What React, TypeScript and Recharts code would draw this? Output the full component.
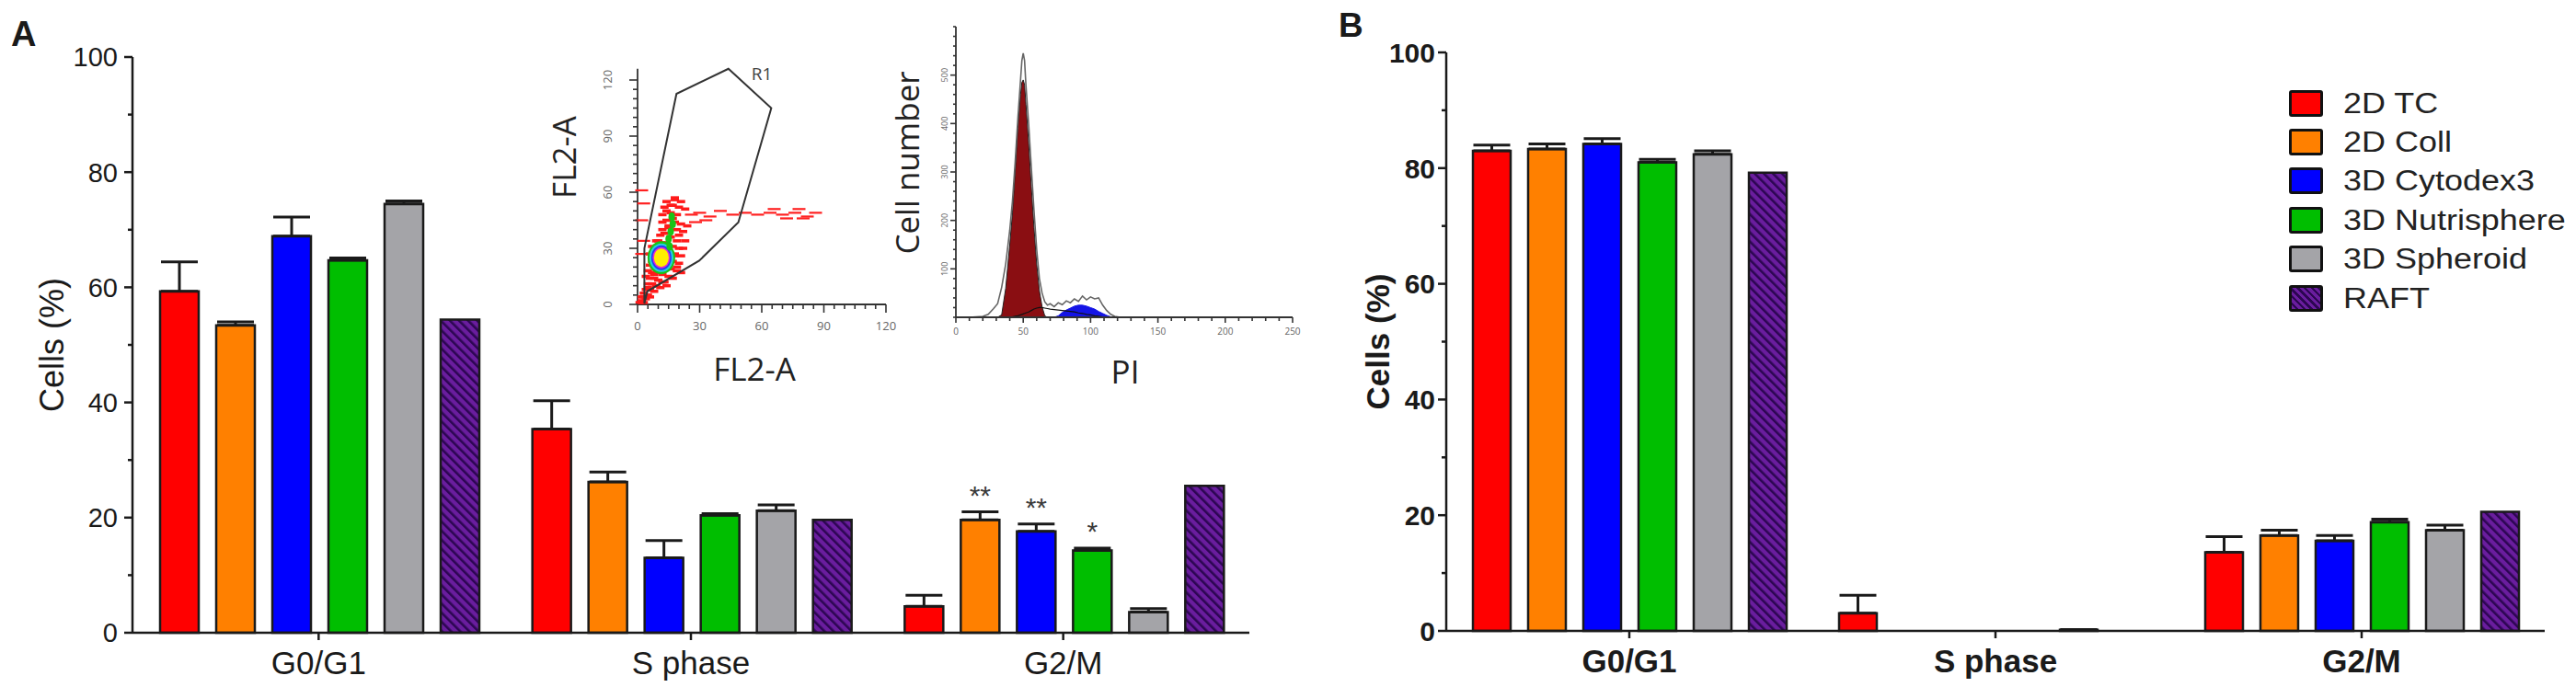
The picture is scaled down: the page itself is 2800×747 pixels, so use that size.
import React from 'react';
import {
  BarChart, Bar, XAxis, YAxis, ErrorBar, LabelList, Legend,
  ScatterChart, Scatter, ComposedChart, Area, Line,
} from 'recharts';

const FONT = '"Liberation Sans", Arial, Helvetica, sans-serif';
const FLOW_FONT = '"Open Sans", "Noto Sans", sans-serif';
const INK = '#1a1a1a';

// ---------- categories & series ----------
const categories = ['G0/G1', 'S phase', 'G2/M'];
const seriesNames = ['2D TC', '2D Coll', '3D Cytodex3', '3D Nutrisphere', '3D Spheroid', 'RAFT'];
const seriesKeys = ['tc', 'coll', 'cyto', 'nutri', 'sph', 'raft'];
const seriesFills = ['#FF0000', '#FF8000', '#0000FF', '#00BE00', '#A4A4A8', 'url(#raftHatch)'];
const legendSwatches = [
  '#FF0000', '#FF8000', '#0000FF', '#00BE00', '#A4A4A8',
  'repeating-linear-gradient(45deg, #6A1D9E 0px, #6A1D9E 3px, #2C0652 3px, #2C0652 5.5px)',
];

// ---------- panel A values ----------
const aTC = [59.3, 35.4, 4.6];
const aTCErr = [5.1, 4.9, 1.9];
const aColl = [53.4, 26.2, 19.6];
const aCollErr = [0.6, 1.7, 1.4];
const aCyto = [68.9, 13.0, 17.6];
const aCytoErr = [3.3, 3.0, 1.3];
const aNutri = [64.7, 20.4, 14.3];
const aNutriErr = [0.4, 0.3, 0.4];
const aSph = [74.5, 21.2, 3.6];
const aSphErr = [0.5, 1.0, 0.6];
const aRaft = [54.4, 19.6, 25.5];
const aRaftErr = [0, 0, 0];
const aSigNone = ['', '', ''];
const aSigColl = ['', '', '**'];
const aSigCyto = ['', '', '**'];
const aSigNutri = ['', '', '*'];

// ---------- panel B values ----------
const bTC = [83.0, 3.05, 13.6];
const bTCErr = [1.0, 3.1, 2.7];
const bColl = [83.3, 0, 16.5];
const bCollErr = [0.9, 0, 0.9];
const bCyto = [84.2, 0, 15.6];
const bCytoErr = [0.9, 0, 0.9];
const bNutri = [81.0, 0, 18.8];
const bNutriErr = [0.5, 0, 0.5];
const bSph = [82.4, 0.2, 17.4];
const bSphErr = [0.6, 0, 0.9];
const bRaft = [79.2, 0, 20.6];
const bRaftErr = [0, 0, 0];

// ---------- axis ticks ----------
const pctTicks = [0, 10, 20, 30, 40, 50, 60, 70, 80, 90, 100];
const pctMajor = [0, 20, 40, 60, 80, 100];

// ---------- inset 1 (FL2-A dot plot) ----------
const flTicks = [0, 5, 10, 15, 20, 25, 30, 35, 40, 45, 50, 55, 60, 65, 70, 75, 80, 85, 90, 95, 100, 105, 110, 115, 120];
const flMajor = [0, 30, 60, 90, 120];
const gateX = [3.3, 3.3, 18.8, 43.9, 64.6, 48.7, 29.8, 4.7, 3.3];
const gateY = [0.5, 30, 112.6, 126, 105, 43.9, 23.4, 7, 0.5];
const redX = [1, 2, 3, 2, 4, 3, 5, 6, 4, 6, 8, 5, 7, 9, 11, 6, 8, 10, 13, 7, 9, 12, 15, 17, 8, 16, 19, 21, 7, 17, 20, 6, 18, 21, 7, 17, 20, 9, 19, 11, 16, 20, 12, 15, 19, 22, 12, 14, 18, 21, 24, 12, 16, 19, 13, 17, 20, 23, 14, 18, 21, 4, 5, 6, 18, 19, 10, 14, 3, 5, 8, 10, 12, 14, 22, 23, 13, 15, 17, 14, 16, 18];
const redY = [1, 2, 1, 4, 3, 6, 5, 4, 8, 8, 7, 11, 11, 10, 9, 14, 14, 13, 12, 17, 17, 16, 15, 14, 20, 19, 18, 17, 23, 23, 22, 27, 27, 26, 31, 31, 30, 34, 34, 37, 36, 37, 40, 41, 40, 39, 44, 45, 44, 43, 42, 48, 49, 48, 52, 53, 52, 51, 55, 56, 55, 15, 18, 21, 26, 20, 34, 33, 4, 9, 16, 18, 12, 10, 30, 34, 38, 42, 46, 50, 53, 57];
const streakX = [26, 30, 35, 40, 46, 52, 58, 64, 70, 76, 82, 86, 72, 80, 66, 78, 33, 28, 2, 3, 2, 3, 2];
const streakY = [48, 49, 47, 50, 48, 49, 48, 49, 48, 49, 47, 49, 46, 46, 51, 51, 45, 44, 27, 34, 45, 54, 61];
const greenX = [15, 16, 17, 15.5, 16.5];
const greenY = [35, 39, 43, 31, 47];
const coreX = [11.5];
const coreY = [25];
const rings = [
  { rx: 15, ry: 18, color: '#18C418' },
  { rx: 13, ry: 15.5, color: '#27D0E0' },
  { rx: 11, ry: 13.5, color: '#2040F0' },
  { rx: 9.5, ry: 11.5, color: '#E028D8' },
  { rx: 8, ry: 10, color: '#FFEE00' },
];
const r1LabelX = [60];
const r1LabelY = [120];

// ---------- inset 2 (PI histogram) ----------
const histYTicks = [0, 20, 40, 60, 80, 100, 120, 140, 160, 180, 200, 220, 240, 260, 280, 300, 320, 340, 360, 380, 400, 420, 440, 460, 480, 500, 520, 540, 560, 580, 600];
const histYMajor = [100, 200, 300, 400, 500];
const histXTicks = [0, 10, 20, 30, 40, 50, 60, 70, 80, 90, 100, 110, 120, 130, 140, 150, 160, 170, 180, 190, 200, 210, 220, 230, 240, 250];
const histXMajor = [0, 50, 100, 150, 200, 250];
const piValues = [0, 10, 20, 24, 28, 31, 34, 37, 40, 42, 44, 46, 48, 49, 50, 51, 52, 54, 56, 58, 60, 62, 64, 66, 68, 70, 73, 76, 79, 82, 85, 88, 91, 94, 97, 100, 103, 106, 109, 112, 115, 118, 122, 130, 150, 200, 250];
const observedCounts = [0, 0, 2, 6, 18, 28, 62, 110, 180, 240, 320, 410, 490, 530, 545, 530, 480, 400, 310, 220, 140, 80, 50, 32, 25, 28, 22, 30, 26, 34, 30, 38, 33, 44, 36, 42, 38, 40, 25, 14, 6, 2, 0, 0, 0, 0, 0];
const g1Counts = [0, 0, 0, 0, 0, 0, 5, 60, 150, 215, 300, 390, 460, 485, 490, 480, 440, 360, 270, 185, 110, 55, 22, 3, 0, 0, 0, 0, 0, 0, 0, 0, 0, 0, 0, 0, 0, 0, 0, 0, 0, 0, 0, 0, 0, 0, 0];
const g2Counts = [0, 0, 0, 0, 0, 0, 0, 0, 0, 0, 0, 0, 0, 0, 0, 0, 0, 0, 0, 0, 0, 0, 0, 0, 0, 0, 0, 3, 10, 15, 19, 23, 25, 25, 23, 20, 17, 12, 8, 4, 1, 0, 0, 0, 0, 0, 0];
const sCounts = [0, 0, 0, 0, 0, 0, 0, 0, 0, 1, 2, 3, 5, 6, 7, 8, 9, 11, 14, 17, 19, 20, 20, 19, 18, 17, 16, 15, 14, 13, 12, 11, 9, 8, 6, 5, 3, 2, 1, 0, 0, 0, 0, 0, 0, 0, 0];

// ---------- builders ----------
function buildTable(means: number[][], errs: number[][], sigs: string[][]) {
  return categories.map((cat, i) => {
    const row: any = { cat };
    seriesKeys.forEach((k, s) => {
      row[k] = means[s][i];
      row[k + 'Err'] = errs[s][i];
      row[k + 'Sig'] = sigs[s][i];
    });
    return row;
  });
}

const aMeans = [aTC, aColl, aCyto, aNutri, aSph, aRaft];
const aErrs = [aTCErr, aCollErr, aCytoErr, aNutriErr, aSphErr, aRaftErr];
const aSigs = [aSigNone, aSigColl, aSigCyto, aSigNutri, aSigNone, aSigNone];
const bMeans = [bTC, bColl, bCyto, bNutri, bSph, bRaft];
const bErrs = [bTCErr, bCollErr, bCytoErr, bNutriErr, bSphErr, bRaftErr];
const bSigs = [aSigNone, aSigNone, aSigNone, aSigNone, aSigNone, aSigNone];

const tableA = buildTable(aMeans, aErrs, aSigs);
const tableB = buildTable(bMeans, bErrs, bSigs);

const pairs = (xs: number[], ys: number[]) => xs.map((x, i) => ({ x, y: ys[i] }));
const histTable = piValues.map((pi, i) => ({
  pi, obs: observedCounts[i], g1: g1Counts[i], g2: g2Counts[i], sph: sCounts[i],
}));

// ---------- renderers ----------
const makePctTick = (tickSize: number, tickMargin: number, fontSize: number, weight: any) => (props: any) => {
  const { x, y, payload } = props;
  const v = payload.value;
  const axisX = x + tickSize + tickMargin;
  const major = pctMajor.includes(v);
  return (
    <g>
      <line x1={axisX - (major ? tickSize : 5)} x2={axisX} y1={y} y2={y} stroke={INK} strokeWidth={2.5} />
      {major && (
        <text x={x} y={y} dy="0.36em" textAnchor="end" fontSize={fontSize} fontWeight={weight} fontFamily={FONT} fill={INK}>
          {v}
        </text>
      )}
    </g>
  );
};

const makeYLabel = (cx: number, fontSize: number, weight: any) => (props: any) => {
  const vb = props.viewBox || { y: 60, height: 620 };
  const cy = vb.y + vb.height / 2;
  return (
    <text x={cx} y={cy} transform={`rotate(-90 ${cx} ${cy})`} textAnchor="middle" dominantBaseline="central"
      fontSize={fontSize} fontWeight={weight} fontFamily={FONT} fill={INK}>
      Cells (%)
    </text>
  );
};

const makeSig = (errs: number[], ppu: number) => (props: any) => {
  const { value, index } = props;
  if (!value) return null;
  const vb = props.viewBox || props;
  const x = vb.x + vb.width / 2;
  const top = vb.y - errs[index] * ppu;
  return (
    <text x={x} y={top - 8} textAnchor="middle" fontSize={30} fill="#3a3a3a" fontFamily={FONT}>
      {value}
    </text>
  );
};

const LegendBox = () => (
  <div style={{ fontFamily: FONT }}>
    {seriesNames.map((n, i) => (
      <div key={n} style={{ display: 'flex', alignItems: 'center', height: 42.4 }}>
        <div style={{
          width: 37, height: 29, boxSizing: 'border-box', border: '3px solid #111', borderRadius: 3,
          background: legendSwatches[i], flex: '0 0 auto',
        }} />
        <span style={{
          marginLeft: 22, fontSize: 31, color: '#222', display: 'inline-block', whiteSpace: 'nowrap',
          lineHeight: 1, transform: 'scaleX(1.16)', transformOrigin: 'left center',
        }}>{n}</span>
      </div>
    ))}
  </div>
);

const flowYTick = (tickSize: number, tickMargin: number, major: number[], majorLen: number, minorLen: number,
  fontSize: number, labelOffset: number) => (props: any) => {
  const { x, y, payload } = props;
  const v = payload.value;
  const axisX = x + tickSize + tickMargin;
  const isMajor = major.includes(v);
  const lx = axisX - labelOffset;
  return (
    <g>
      <line x1={axisX - (isMajor ? majorLen : minorLen)} x2={axisX} y1={y} y2={y} stroke="#333" strokeWidth={1.6} />
      {isMajor && (
        <text x={lx} y={y} transform={`rotate(-90 ${lx} ${y})`} textAnchor="middle" fontSize={fontSize} fill="#666" fontFamily={FLOW_FONT}>
          {v}
        </text>
      )}
    </g>
  );
};

const flowXTick = (tickSize: number, tickMargin: number, major: number[], majorLen: number, minorLen: number,
  fontSize: number, labelOffset: number) => (props: any) => {
  const { x, y, payload } = props;
  const v = payload.value;
  const axisY = y - tickSize - tickMargin;
  const isMajor = major.includes(v);
  return (
    <g>
      <line x1={x} x2={x} y1={axisY} y2={axisY + (isMajor ? majorLen : minorLen)} stroke="#333" strokeWidth={1.6} />
      {isMajor && (
        <text x={x} y={axisY + labelOffset} textAnchor="middle" fontSize={fontSize} fill="#666" fontFamily={FLOW_FONT}>
          {v}
        </text>
      )}
    </g>
  );
};

const dashShape = (w: number, h: number, color: string) => (p: any) => (
  <rect x={p.cx - w / 2} y={p.cy - h / 2} width={w} height={h} fill={color} />
);
const ellipseShape = (rx: number, ry: number, color: string) => (p: any) => (
  <ellipse cx={p.cx} cy={p.cy} rx={rx} ry={ry} fill={color} />
);
const noShape = () => <g />;
const r1Shape = (p: any) => (
  <text x={p.cx} y={p.cy} textAnchor="middle" fontSize={19} fill="#444" fontFamily={FLOW_FONT}>R1</text>
);

const fixedText = (x: number, y: number, text: string, fontSize: number, rotate: boolean) => () => (
  <text x={x} y={y} transform={rotate ? `rotate(-90 ${x} ${y})` : undefined} textAnchor="middle"
    dominantBaseline={rotate ? 'central' : undefined} fontSize={fontSize} fill="#222" fontFamily={FLOW_FONT}>
    {text}
  </text>
);

// ---------- panels ----------
function PanelBars(props: {
  table: any[]; errs: number[][]; width: number; margin: any; yWidth: number; gap: number; catGap: number;
  tickFont: number; tickWeight: any; catWeight: any; labelX: number; labelFont: number; labelWeight: any; ppu: number;
  legend?: boolean;
}) {
  const { table, errs } = props;
  return (
    <BarChart width={props.width} height={747} data={table} margin={props.margin}
      barCategoryGap={props.catGap} barGap={props.gap}>
      <XAxis dataKey="cat" type="category" interval={0} height={50} tickSize={8} tickMargin={12}
        axisLine={{ stroke: INK, strokeWidth: 2.5 }} tickLine={{ stroke: INK, strokeWidth: 2.5 }}
        tick={{ fontSize: 35, fill: INK, fontFamily: FONT, fontWeight: props.catWeight }} />
      <YAxis type="number" domain={[0, 100]} ticks={pctTicks} interval={0} width={props.yWidth}
        tickSize={9} tickMargin={props.tickWeight === 'bold' ? 3 : 7} tickLine={false}
        axisLine={{ stroke: INK, strokeWidth: 2.5 }}
        tick={makePctTick(9, props.tickWeight === 'bold' ? 3 : 7, props.tickFont, props.tickWeight)}
        label={makeYLabel(props.labelX, props.labelFont, props.labelWeight)} />
      {seriesKeys.map((k, s) => {
        const hasErr = errs[s].some((e) => e > 0);
        return (
          <Bar key={k} dataKey={k} name={seriesNames[s]} fill={seriesFills[s]} stroke={INK} strokeWidth={2.5}
            isAnimationActive={false}>
            {hasErr && (
              <ErrorBar dataKey={(d: any) => [0, d[k + 'Err']]} width={20} stroke={INK} strokeWidth={3}
                direction="y" isAnimationActive={false} />
            )}
            <LabelList dataKey={k + 'Sig'} content={makeSig(errs[s], props.ppu)} />
          </Bar>
        );
      })}
      {props.legend && (
        <Legend layout="vertical" align="center" verticalAlign="middle" content={LegendBox}
          wrapperStyle={{ position: 'absolute', left: 1088, top: 91, width: 320 }} />
      )}
    </BarChart>
  );
}

function DotPlot() {
  return (
    <ScatterChart width={420} height={400} margin={{ top: 34.8, right: 17, bottom: 79, left: 93 }}>
      <XAxis type="number" dataKey="x" domain={[0, 120]} ticks={flTicks} interval={0} height={30}
        tickSize={6} tickMargin={2} tickLine={false} axisLine={{ stroke: '#333', strokeWidth: 1.8 }}
        tick={flowXTick(6, 2, flMajor, 9, 5, 13, 28)}
        label={fixedText(260, 374, 'FL2-A', 35, false)} />
      <YAxis type="number" dataKey="y" domain={[0, 126]} ticks={flTicks} interval={0} width={40}
        tickSize={6} tickMargin={2} tickLine={false} axisLine={{ stroke: '#333', strokeWidth: 1.8 }}
        tick={flowYTick(6, 2, flMajor, 9, 5, 13, 28)}
        label={fixedText(52, 131, 'FL2-A', 35, true)} />
      <Scatter data={pairs(redX, redY)} shape={dashShape(9, 3.5, '#FF1A1A')} isAnimationActive={false} />
      <Scatter data={pairs(streakX, streakY)} shape={dashShape(14, 2.2, '#FF2020')} isAnimationActive={false} />
      {rings.map((r, i) => (
        <Scatter key={i} data={pairs(coreX, coreY)} shape={ellipseShape(r.rx, r.ry, r.color)} isAnimationActive={false} />
      ))}
      <Scatter data={pairs(greenX, greenY)} shape={ellipseShape(3.5, 4.5, '#18C418')} isAnimationActive={false} />
      <Scatter data={pairs(gateX, gateY)} line={{ stroke: '#333', strokeWidth: 2 }} shape={noShape} isAnimationActive={false} />
      <Scatter data={pairs(r1LabelX, r1LabelY)} shape={r1Shape} isAnimationActive={false} />
    </ScatterChart>
  );
}

function Histogram() {
  return (
    <ComposedChart width={460} height={440} data={histTable} margin={{ top: 29, right: 15, bottom: 65, left: 49 }}>
      <XAxis type="number" dataKey="pi" domain={[0, 250]} ticks={histXTicks} interval={0} height={30}
        tickSize={6} tickMargin={2} tickLine={false} axisLine={{ stroke: '#333', strokeWidth: 1.8 }}
        tick={flowXTick(6, 2, histXMajor, 6, 4, 10, 19)}
        label={fixedText(263, 417, 'PI', 35, false)} />
      <YAxis type="number" domain={[0, 600]} ticks={histYTicks} interval={0} width={30}
        tickSize={6} tickMargin={2} tickLine={false} axisLine={{ stroke: '#333', strokeWidth: 1.8 }}
        tick={flowYTick(6, 2, histYMajor, 6, 3, 9, 9)}
        label={fixedText(25, 177, 'Cell number', 35, true)} />
      <Area type="linear" dataKey="g1" fill="#8A0E12" fillOpacity={1} stroke="#222" strokeWidth={1} isAnimationActive={false} />
      <Area type="linear" dataKey="g2" fill="#1414E6" fillOpacity={1} stroke="#1414E6" strokeWidth={1} isAnimationActive={false} />
      <Line type="linear" dataKey="sph" stroke="#111" strokeWidth={1.2} dot={false} isAnimationActive={false} />
      <Line type="linear" dataKey="obs" stroke="#666" strokeWidth={1.6} dot={false} isAnimationActive={false} />
    </ComposedChart>
  );
}

export default function App() {
  return (
    <div style={{ position: 'absolute', left: 0, top: 0, width: 2800, height: 747, background: '#fff', overflow: 'hidden' }}>
      <svg width={0} height={0} style={{ position: 'absolute' }}>
        <defs>
          <pattern id="raftHatch" patternUnits="userSpaceOnUse" width={7} height={7} patternTransform="rotate(-45)">
            <rect width={7} height={7} fill="#6A1D9E" />
            <rect width={2.6} height={7} fill="#2C0652" />
          </pattern>
        </defs>
      </svg>
      <div style={{ position: 'absolute', left: 0, top: 0 }}>
        <PanelBars table={tableA} errs={aErrs} width={1400} margin={{ top: 62, right: 42, bottom: 9, left: 44 }}
          yWidth={100} gap={19} catGap={30} tickFont={29} tickWeight="normal" catWeight="normal"
          labelX={56} labelFont={36} labelWeight="normal" ppu={6.26} />
      </div>
      <div style={{ position: 'absolute', left: 1400, top: 0 }}>
        <PanelBars table={tableB} errs={bErrs} width={1400} margin={{ top: 57, right: 34, bottom: 11, left: 72 }}
          yWidth={100} gap={19} catGap={29} tickFont={30} tickWeight="bold" catWeight="bold"
          labelX={97} labelFont={35} labelWeight="bold" ppu={6.29} legend />
      </div>
      <div style={{ position: 'absolute', left: 560, top: 40 }}>
        <DotPlot />
      </div>
      <div style={{ position: 'absolute', left: 960, top: 0 }}>
        <Histogram />
      </div>
      <svg width={2800} height={747} style={{ position: 'absolute', left: 0, top: 0, pointerEvents: 'none' }}>
        <text x={12} y={50} fontSize={38} fontWeight="bold" fontFamily={FONT} fill={INK}>A</text>
        <text x={1455} y={40} fontSize={37} fontWeight="bold" fontFamily={FONT} fill={INK}>B</text>
      </svg>
    </div>
  );
}
